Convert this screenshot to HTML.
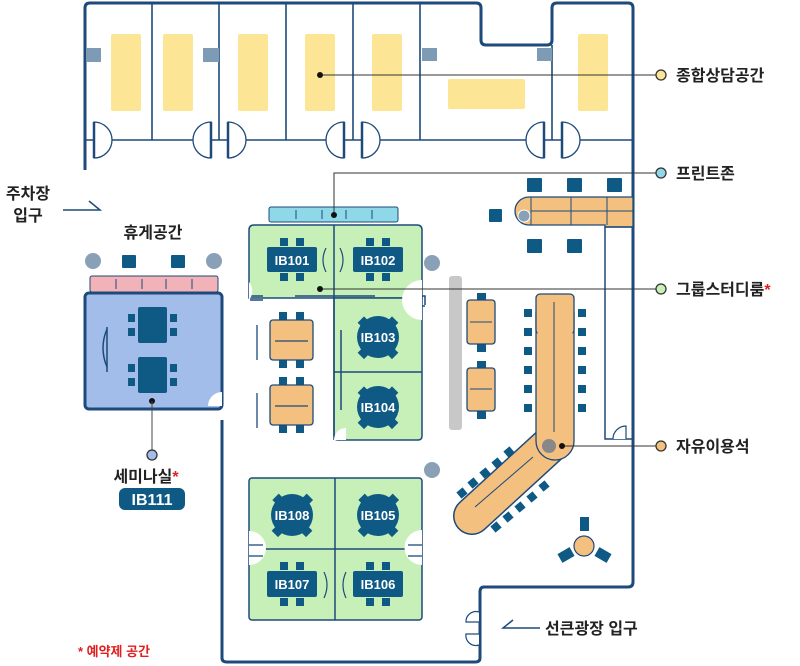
<!DOCTYPE html>
<html><head><meta charset="utf-8"><style>
html,body{margin:0;padding:0;background:#fff}
svg{display:block}
text{font-family:"Liberation Sans","Noto Sans CJK KR",sans-serif;font-weight:bold}
</style></head><body>
<svg width="800" height="666" viewBox="0 0 800 666" xmlns="http://www.w3.org/2000/svg">
<defs>
<g id="ch"><rect x="-6" y="-6" width="12" height="12" rx="1" fill="#0e5a85"/></g>
<g id="sc"><rect x="-4" y="-4" width="8" height="8" fill="#0e5a85"/></g>
</defs>
<!-- outer walls -->
<path d="M85,170 V8 Q85,3 90,3 H476 Q481,3 481,8 V40 Q481,45 486,45 H547 Q552,45 552,40 V8 Q552,3 557,3 H628 Q633,3 633,8 V582 Q633,587 628,587 H484 Q480,587 480,592 V658 Q480,662 475,662 H227 Q222,662 222,658 V420" fill="none" stroke="#1d4a7a" stroke-width="3"/>
<!-- top room dividers -->
<g stroke="#1d4a7a" stroke-width="1.6" fill="none">
<line x1="85" y1="140" x2="633" y2="140"/>
<line x1="152" y1="3" x2="152" y2="140"/><line x1="219" y1="3" x2="219" y2="140"/>
<line x1="286" y1="3" x2="286" y2="140"/><line x1="353" y1="3" x2="353" y2="140"/>
<line x1="420" y1="3" x2="420" y2="140"/><line x1="552" y1="45" x2="552" y2="140"/>
</g>
<g fill="#fde596">
<rect x="111" y="34" width="30" height="77" rx="2"/><rect x="163" y="34" width="30" height="77" rx="2"/>
<rect x="238" y="34" width="30" height="77" rx="2"/><rect x="305" y="34" width="30" height="77" rx="2"/>
<rect x="372" y="34" width="30" height="77" rx="2"/><rect x="448" y="79" width="77" height="30" rx="2"/>
<rect x="578" y="34" width="30" height="77" rx="2"/>
</g>
<g fill="#7e9bb5">
<rect x="86" y="48" width="15" height="14"/><rect x="203" y="48" width="16" height="14"/>
<rect x="422" y="48" width="15" height="13"/><rect x="537" y="48" width="15" height="13"/>
</g>
<!-- doors -->
<g fill="#fff" stroke="#1d4a7a" stroke-width="1.3">
<path d="M94,122 A18,18 0 0 1 94,158 Z"/><path d="M211,122 A18,18 0 0 0 211,158 Z"/>
<path d="M228,122 A18,18 0 0 1 228,158 Z"/><path d="M344,122 A18,18 0 0 0 344,158 Z"/>
<path d="M362,122 A18,18 0 0 1 362,158 Z"/><path d="M544,122 A18,18 0 0 0 544,158 Z"/>
<path d="M562,122 A18,18 0 0 1 562,158 Z"/>
</g>
<g stroke="#1d4a7a" stroke-width="2.5"><line x1="94" y1="122" x2="94" y2="158"/><line x1="211" y1="122" x2="211" y2="158"/><line x1="228" y1="122" x2="228" y2="158"/><line x1="344" y1="122" x2="344" y2="158"/><line x1="362" y1="122" x2="362" y2="158"/><line x1="544" y1="122" x2="544" y2="158"/><line x1="562" y1="122" x2="562" y2="158"/></g>

<!-- parking entrance -->
<text x="28" y="199" font-size="16" text-anchor="middle" fill="#222">주차장</text>
<text x="28" y="221" font-size="16" text-anchor="middle" fill="#222">입구</text>
<path d="M63,210 H100 L89,201" fill="none" stroke="#1d4a7a" stroke-width="1.5"/>

<!-- lounge / seminar -->
<text x="153" y="238" font-size="16" text-anchor="middle" fill="#222">휴게공간</text>
<circle cx="93" cy="261" r="8" fill="#8aa0b6"/><circle cx="214" cy="261" r="8" fill="#8aa0b6"/>
<rect x="122" y="255" width="14" height="13" rx="1" fill="#0e5a85"/><rect x="171" y="255" width="14" height="13" rx="1" fill="#0e5a85"/>
<rect x="90" y="276" width="128" height="16" rx="2" fill="#f2b3b8" stroke="#1d4a7a" stroke-width="1"/>
<g stroke="#1d4a7a" stroke-width="1"><line x1="116" y1="279" x2="116" y2="289"/><line x1="142" y1="279" x2="142" y2="289"/><line x1="166" y1="279" x2="166" y2="289"/><line x1="192" y1="279" x2="192" y2="289"/></g>
<rect x="85" y="293" width="137" height="116" rx="4" fill="#a3bdea" stroke="#1d4a7a" stroke-width="3"/>
<path d="M222,392 A14,14 0 0 0 208,406 H222Z" fill="#fff"/>
<rect x="138" y="307" width="29" height="36" rx="2" fill="#0e5a85"/><rect x="138" y="357" width="29" height="36" rx="2" fill="#0e5a85"/>
<g fill="#0e5a85"><rect x="128" y="314" width="7" height="8"/><rect x="128" y="328" width="7" height="8"/><rect x="170" y="314" width="7" height="8"/><rect x="170" y="328" width="7" height="8"/><rect x="128" y="364" width="7" height="8"/><rect x="128" y="378" width="7" height="8"/><rect x="170" y="364" width="7" height="8"/><rect x="170" y="378" width="7" height="8"/></g>
<path d="M107,329 Q99,348 107,367" fill="none" stroke="#1d4a7a" stroke-width="1.5"/><line x1="107" y1="327" x2="107" y2="372" stroke="#1d4a7a" stroke-width="1.5"/>
<circle cx="152" cy="401" r="3" fill="#111"/><line x1="152" y1="401" x2="152" y2="451" stroke="#444" stroke-width="1"/>
<circle cx="152" cy="455" r="5" fill="#a3bdea" stroke="#333" stroke-width="1.3"/>
<text x="146" y="482" font-size="16" text-anchor="middle" fill="#222">세미나실<tspan fill="#e02020">*</tspan></text>
<rect x="119" y="488" width="66" height="22" rx="6" fill="#0e5a85"/>
<text x="152" y="505" font-size="16" text-anchor="middle" fill="#fff">IB111</text>
<text x="114" y="656" font-size="13" text-anchor="middle" fill="#e02020">* 예약제 공간</text>

<!-- print zone -->
<rect x="269" y="207" width="129" height="15" rx="2" fill="#8ed8e8" stroke="#1d4a7a" stroke-width="1"/>
<g stroke="#1d4a7a" stroke-width="1"><line x1="296" y1="210" x2="296" y2="219"/><line x1="322" y1="210" x2="322" y2="219"/><line x1="346" y1="210" x2="346" y2="219"/><line x1="372" y1="210" x2="372" y2="219"/></g>

<!-- group study top -->
<path d="M249,298 V230 Q249,225 254,225 H417 Q422,225 422,230 V298 Z" fill="#c6f0b8" stroke="#1d4a7a" stroke-width="1.5"/>
<path d="M334,298 H422 V436 Q422,440 418,440 H338 Q334,440 334,436 Z" fill="#c6f0b8" stroke="#1d4a7a" stroke-width="1.5"/>
<line x1="334" y1="225" x2="334" y2="440" stroke="#1d4a7a" stroke-width="1.5"/>
<line x1="334" y1="372" x2="422" y2="372" stroke="#1d4a7a" stroke-width="1.5"/>
<line x1="341" y1="330" x2="341" y2="410" stroke="#1d4a7a" stroke-width="1.5"/>
<g stroke="#1d4a7a" stroke-width="1.5" fill="none"><path d="M250,296 H263"/><path d="M250,300 H263"/><path d="M295,296 H375"/><path d="M405,296 H425 V305"/><path d="M405,306 H425"/></g>
<path d="M249,282 A14,14 0 0 1 249,300" fill="#fff"/><path d="M422,280 A16,16 0 0 0 422,320" fill="#fff"/>
<path d="M334,440 A12,12 0 0 1 346,428 V440Z" fill="#fff"/>
<rect x="267" y="247" width="50" height="25" rx="2" fill="#0e5a85"/><rect x="353" y="247" width="50" height="25" rx="2" fill="#0e5a85"/>
<g fill="#0e5a85"><rect x="280" y="238" width="8" height="8"/><rect x="296" y="238" width="8" height="8"/><rect x="280" y="273" width="8" height="8"/><rect x="296" y="273" width="8" height="8"/><rect x="366" y="238" width="8" height="8"/><rect x="382" y="238" width="8" height="8"/><rect x="366" y="273" width="8" height="8"/><rect x="382" y="273" width="8" height="8"/></g>
<text x="292" y="265" font-size="13" text-anchor="middle" fill="#fff">IB101</text>
<text x="378" y="265" font-size="13" text-anchor="middle" fill="#fff">IB102</text>
<path d="M326,248 Q320,260 326,272 M340,248 Q346,260 340,272" fill="none" stroke="#1d4a7a" stroke-width="1.2"/>
<g fill="#0e5a85">
<rect x="360" y="318" width="9" height="9" transform="rotate(45 364 322)"/><rect x="388" y="318" width="9" height="9" transform="rotate(45 392 322)"/><rect x="360" y="348" width="9" height="9" transform="rotate(45 364 352)"/><rect x="388" y="348" width="9" height="9" transform="rotate(45 392 352)"/>
<rect x="360" y="388" width="9" height="9" transform="rotate(45 364 392)"/><rect x="388" y="388" width="9" height="9" transform="rotate(45 392 392)"/><rect x="360" y="418" width="9" height="9" transform="rotate(45 364 422)"/><rect x="388" y="418" width="9" height="9" transform="rotate(45 392 422)"/>
<circle cx="378" cy="337" r="21"/><circle cx="378" cy="407" r="21"/></g>
<text x="378" y="342" font-size="13" text-anchor="middle" fill="#fff">IB103</text>
<text x="378" y="412" font-size="13" text-anchor="middle" fill="#fff">IB104</text>
<circle cx="432" cy="263" r="8" fill="#8aa0b6"/><circle cx="432" cy="470" r="8" fill="#8aa0b6"/>

<!-- left orange tables -->
<g fill="#0e5a85"><rect x="279" y="312" width="8" height="8"/><rect x="296" y="312" width="8" height="8"/><rect x="279" y="360" width="8" height="8"/><rect x="296" y="360" width="8" height="8"/><rect x="279" y="377" width="8" height="8"/><rect x="296" y="377" width="8" height="8"/><rect x="279" y="425" width="8" height="8"/><rect x="296" y="425" width="8" height="8"/></g>
<rect x="270" y="320" width="43" height="40" rx="3" fill="#f4c07f" stroke="#1d4a7a" stroke-width="1.3"/>
<rect x="270" y="385" width="43" height="40" rx="3" fill="#f4c07f" stroke="#1d4a7a" stroke-width="1.3"/>
<g stroke="#1d4a7a" stroke-width="1.3"><line x1="275" y1="341" x2="308" y2="341"/><line x1="275" y1="406" x2="308" y2="406"/><line x1="257" y1="325" x2="257" y2="360"/><line x1="257" y1="393" x2="257" y2="428"/></g>

<!-- bottom group rooms -->
<rect x="249" y="478" width="173" height="142" rx="3" fill="#c6f0b8" stroke="#1d4a7a" stroke-width="1.5"/>
<line x1="335" y1="478" x2="335" y2="620" stroke="#1d4a7a" stroke-width="1.5"/>
<line x1="249" y1="549" x2="422" y2="549" stroke="#1d4a7a" stroke-width="1.5"/>
<path d="M249,531 A14,14 0 0 1 249,565 Z" fill="#fff"/><path d="M422,530 A14,14 0 0 0 422,565 Z" fill="#fff"/>
<g stroke="#1d4a7a" stroke-width="1.3"><line x1="249" y1="545" x2="263" y2="545"/><line x1="249" y1="556" x2="263" y2="556"/><line x1="408" y1="545" x2="422" y2="545"/><line x1="408" y1="556" x2="422" y2="556"/></g>
<g fill="#0e5a85">
<rect x="274" y="495" width="9" height="9" transform="rotate(45 278 500)"/><rect x="302" y="495" width="9" height="9" transform="rotate(45 306 500)"/><rect x="274" y="526" width="9" height="9" transform="rotate(45 278 530)"/><rect x="302" y="526" width="9" height="9" transform="rotate(45 306 530)"/>
<rect x="360" y="495" width="9" height="9" transform="rotate(45 364 500)"/><rect x="388" y="495" width="9" height="9" transform="rotate(45 392 500)"/><rect x="360" y="526" width="9" height="9" transform="rotate(45 364 530)"/><rect x="388" y="526" width="9" height="9" transform="rotate(45 392 530)"/>
<circle cx="292" cy="515" r="21"/><circle cx="378" cy="515" r="21"/>
<rect x="267" y="571" width="50" height="26" rx="2"/><rect x="353" y="571" width="50" height="26" rx="2"/>
<rect x="280" y="562" width="8" height="8"/><rect x="296" y="562" width="8" height="8"/><rect x="280" y="598" width="8" height="8"/><rect x="296" y="598" width="8" height="8"/>
<rect x="366" y="562" width="8" height="8"/><rect x="382" y="562" width="8" height="8"/><rect x="366" y="598" width="8" height="8"/><rect x="382" y="598" width="8" height="8"/></g>
<text x="292" y="520" font-size="13" text-anchor="middle" fill="#fff">IB108</text>
<text x="378" y="520" font-size="13" text-anchor="middle" fill="#fff">IB105</text>
<text x="292" y="589" font-size="13" text-anchor="middle" fill="#fff">IB107</text>
<text x="378" y="589" font-size="13" text-anchor="middle" fill="#fff">IB106</text>
<path d="M324,572 Q330,585 324,598 M346,572 Q340,585 346,598" fill="none" stroke="#1d4a7a" stroke-width="1.2"/>

<!-- gray partition -->
<rect x="449" y="276" width="13" height="154" rx="3" fill="#c8c8c8"/>
<!-- middle small tables -->
<g fill="#0e5a85"><rect x="477" y="293" width="9" height="8"/><rect x="477" y="344" width="9" height="8"/><rect x="477" y="361" width="9" height="8"/><rect x="477" y="411" width="9" height="8"/></g>
<rect x="467" y="300" width="28" height="44" rx="3" fill="#f4c07f" stroke="#1d4a7a" stroke-width="1.3"/>
<rect x="467" y="368" width="28" height="43" rx="3" fill="#f4c07f" stroke="#1d4a7a" stroke-width="1.3"/>
<g stroke="#1d4a7a" stroke-width="1"><line x1="470" y1="322" x2="492" y2="322"/><line x1="470" y1="389" x2="492" y2="389"/></g>

<!-- right upper table (print zone) -->
<g fill="#0e5a85"><rect x="527" y="178" width="15" height="14" rx="1"/><rect x="567" y="178" width="15" height="14" rx="1"/><rect x="607" y="178" width="15" height="14" rx="1"/><rect x="527" y="239" width="15" height="14" rx="1"/><rect x="567" y="239" width="15" height="14" rx="1"/><rect x="489" y="209" width="13" height="13" rx="1"/></g>
<path d="M633,197 H529 A14,14 0 0 0 529,225 H605 V227 H633Z" fill="#f4c07f" stroke="#1d4a7a" stroke-width="1.3"/>
<g stroke="#1d4a7a" stroke-width="1"><line x1="531" y1="197" x2="531" y2="225"/><line x1="571" y1="197" x2="571" y2="225"/><line x1="607" y1="197" x2="607" y2="225"/><line x1="531" y1="211" x2="633" y2="211"/></g>
<circle cx="524" cy="216" r="6" fill="#8aa0b6" stroke="#fff" stroke-width="1"/>
<path d="M633,227 H605 V439 H633" fill="none" stroke="#1d4a7a" stroke-width="1.5"/>
<path d="M613,439 A13,13 0 0 1 626,426 V439" fill="#fff" stroke="#1d4a7a" stroke-width="1.2"/>

<!-- long table -->
<g fill="#0e5a85">
<rect x="524" y="309" width="8" height="8"/><rect x="524" y="328" width="8" height="8"/><rect x="524" y="347" width="8" height="8"/><rect x="524" y="366" width="8" height="8"/><rect x="524" y="385" width="8" height="8"/><rect x="524" y="404" width="8" height="8"/>
<rect x="578" y="309" width="8" height="8"/><rect x="578" y="328" width="8" height="8"/><rect x="578" y="347" width="8" height="8"/><rect x="578" y="366" width="8" height="8"/><rect x="578" y="385" width="8" height="8"/><rect x="578" y="404" width="8" height="8"/>
</g>
<g fill="#0e5a85">
<rect x="505" y="448" width="8" height="8" transform="rotate(-40 509 452)"/><rect x="493" y="459" width="8" height="8" transform="rotate(-40 497 463)"/><rect x="481" y="469" width="8" height="8" transform="rotate(-40 485 473)"/><rect x="469" y="479" width="8" height="8" transform="rotate(-40 473 483)"/><rect x="458" y="489" width="8" height="8" transform="rotate(-40 462 493)"/>
<rect x="540" y="482" width="8" height="8" transform="rotate(-40 544 486)"/><rect x="528" y="493" width="8" height="8" transform="rotate(-40 532 497)"/><rect x="516" y="503" width="8" height="8" transform="rotate(-40 520 507)"/><rect x="504" y="513" width="8" height="8" transform="rotate(-40 508 517)"/><rect x="492" y="523" width="8" height="8" transform="rotate(-40 496 527)"/>
</g>
<line x1="555" y1="440" x2="472" y2="516" stroke="#1d4a7a" stroke-width="38" stroke-linecap="round"/>
<line x1="555" y1="440" x2="472" y2="516" stroke="#f4c07f" stroke-width="35" stroke-linecap="round"/>
<rect x="536" y="294" width="38" height="166" rx="19" fill="#f4c07f" stroke="#1d4a7a" stroke-width="1.3"/>
<rect x="536" y="294" width="38" height="40" rx="4" fill="#f4c07f" stroke="#1d4a7a" stroke-width="1.3"/>
<rect x="537.5" y="320" width="35" height="30" fill="#f4c07f"/>
<g stroke="#1d4a7a" stroke-width="1"><line x1="554" y1="302" x2="554" y2="432"/><line x1="533" y1="457" x2="475" y2="507"/></g>
<circle cx="549" cy="446" r="7" fill="#888"/>
<!-- round table -->
<circle cx="584" cy="546" r="10" fill="#f4c07f" stroke="#1d4a7a" stroke-width="1.2"/>
<rect x="580" y="517" width="9" height="14" fill="#0e5a85"/>
<rect x="559" y="550" width="14" height="10" fill="#0e5a85" transform="rotate(-30 566 555)"/>
<rect x="596" y="550" width="14" height="10" fill="#0e5a85" transform="rotate(30 603 555)"/>
<!-- bottom entrance -->
<path d="M479,612 A10,10 0 0 0 466,622 H479 M479,645 A10,10 0 0 1 466,634 H479" fill="#fff" stroke="#1d4a7a" stroke-width="1.2"/>
<path d="M540,628 H503 L513,620" fill="none" stroke="#1d4a7a" stroke-width="1.5"/>
<text x="545" y="634" font-size="16" fill="#222">선큰광장 입구</text>

<!-- leader lines -->
<g stroke="#333" stroke-width="1" fill="none">
<line x1="320" y1="75" x2="656" y2="75"/>
<path d="M334,215 V173 H656"/>
<line x1="320" y1="289" x2="656" y2="289"/>
<line x1="562" y1="446" x2="656" y2="446"/>
</g>
<g fill="#111"><circle cx="320" cy="75" r="3"/><circle cx="334" cy="215" r="3"/><circle cx="320" cy="289" r="3"/><circle cx="562" cy="446" r="3"/></g>
<circle cx="661" cy="75" r="5" fill="#fde596" stroke="#333" stroke-width="1.3"/>
<circle cx="661" cy="173" r="5" fill="#8ed8e8" stroke="#333" stroke-width="1.3"/>
<circle cx="661" cy="289" r="5" fill="#c6f0b8" stroke="#333" stroke-width="1.3"/>
<circle cx="661" cy="446" r="5" fill="#f4c07f" stroke="#333" stroke-width="1.3"/>
<text x="676" y="81" font-size="16" fill="#222">종합상담공간</text>
<text x="676" y="179" font-size="16" fill="#222">프린트존</text>
<text x="676" y="295" font-size="16" fill="#222">그룹스터디룸<tspan fill="#e02020">*</tspan></text>
<text x="676" y="452" font-size="16" fill="#222">자유이용석</text>
</svg>
</body></html>
